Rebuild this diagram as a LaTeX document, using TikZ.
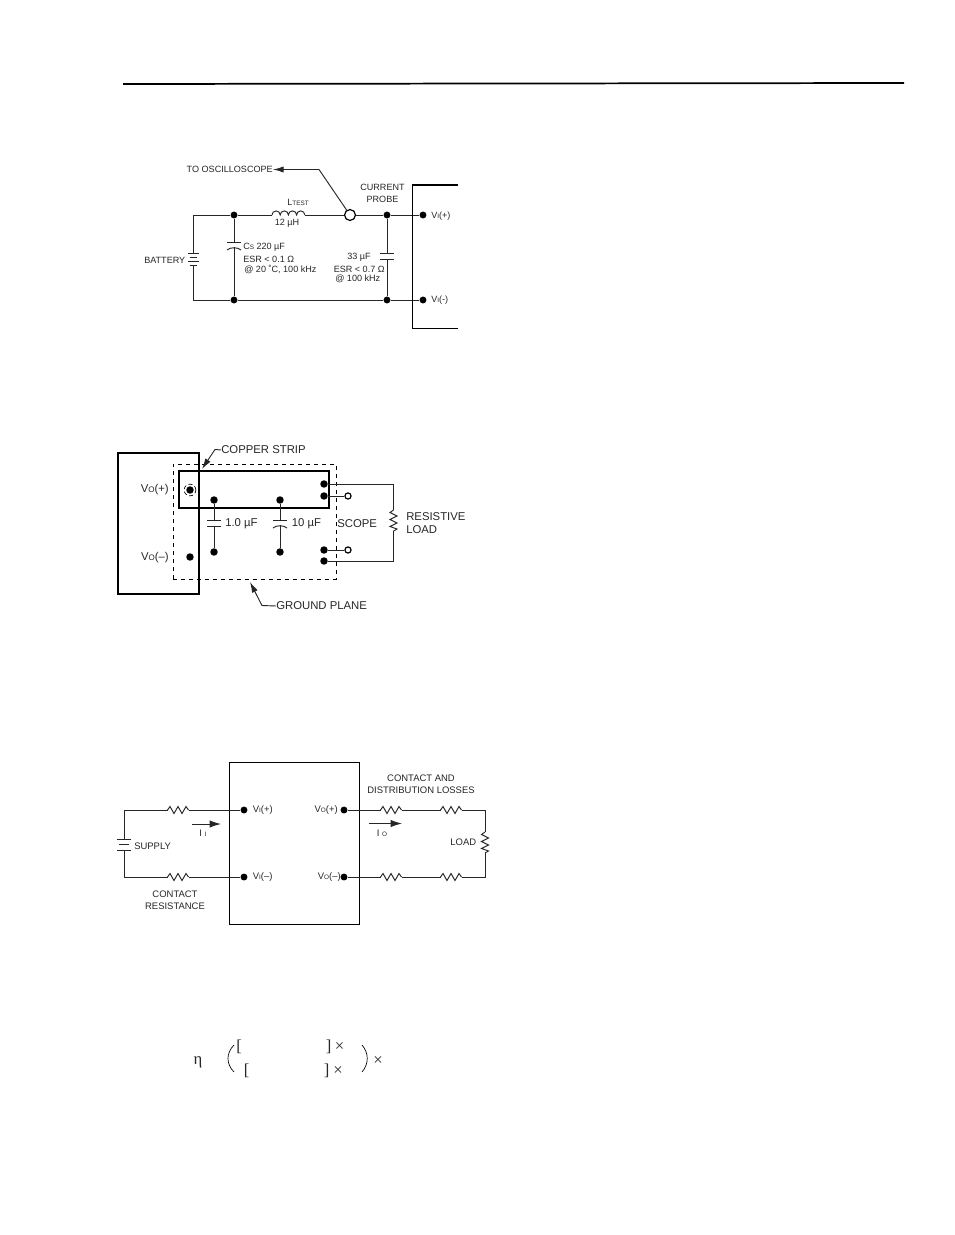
\documentclass[tikz,border=0pt]{standalone}
\usepackage{fontspec}
\setmainfont{Liberation Sans}
\newfontfamily\serifgreek{Liberation Serif}
\usetikzlibrary{arrows.meta,calc}
\newcommand\smc[1]{{\fontsize{4.8}{5}\selectfont #1}}
\newcommand\smd[1]{{\fontsize{6}{6}\selectfont #1}}
\tikzset{
  wire/.style={line width=0.7pt,black!85},
  dot/.style={circle,fill=black,draw=none,inner sep=0pt,minimum size=5.6pt},
  sdot/.style={circle,fill=black,draw=none,inner sep=0pt,minimum size=5.2pt},
  odot/.style={circle,draw=black,fill=white,line width=0.9pt,inner sep=0pt,minimum size=4.6pt},
  lab/.style={inner sep=0pt,text=black!85,font=\fontsize{6.8}{9}\selectfont,align=center},
  labc/.style={inner sep=0pt,text=black!85,font=\fontsize{7.1}{9}\selectfont,align=center},
  labb/.style={inner sep=0pt,text=black!85,font=\fontsize{8.5}{9.6}\selectfont,align=left},
  mathlab/.style={inner sep=0pt,text=black!85,font=\serifgreek\fontsize{12.5}{13}\selectfont},
  leader/.style={wire,-{Latex[length=8pt,width=4.6pt]}},
  curarrow/.style={wire,-{Latex[length=8.5pt,width=5.5pt]}},
  hres/.pic={
    \coordinate (-l) at (-10.5,0); \coordinate (-r) at (10.5,0);
    \draw[wire] (-10.5,0) -- (-8,-3.5) -- (-4,3.5) -- (0,-3.5) -- (4,3.5) -- (8,-3.5) -- (10.5,0);
  },
  vres/.pic={
    \coordinate (-t) at (0,-10.5); \coordinate (-b) at (0,10.5);
    \draw[wire] (0,-10.5) -- (-3.5,-8) -- (3.5,-4.5) -- (-3.5,-1) -- (3.5,2.5) -- (-3.5,6) -- (3.5,8.5) -- (0,10.5);
  },
  capf/.pic={
    \coordinate (-t) at (0,-3); \coordinate (-b) at (0,3);
    \draw[wire] (-7,-3) -- (7,-3) (-7,3) -- (7,3);
  },
  capc/.pic={
    \coordinate (-t) at (0,-3); \coordinate (-b) at (0,2);
    \draw[wire] (-7,-3) -- (7,-3);
    \draw[wire] (-7,5) .. controls (-4,2) and (4,2) .. (7,5);
  },
  battf/.pic={
    \coordinate (-t) at (0,-6); \coordinate (-b) at (0,6);
    \draw[wire] (-5.5,-6) -- (5.5,-6) (-3.5,-2) -- (3.5,-2) (-5.5,2) -- (5.5,2) (-3.5,6) -- (3.5,6);
  },
  batts/.pic={
    \coordinate (-t) at (0,-5.5); \coordinate (-b) at (0,5.5);
    \draw[wire] (-7,-5.5) -- (7,-5.5) (-5,0) -- (5,0) (-7,5.5) -- (7,5.5);
  },
  indu/.pic={
    \coordinate (-l) at (-16.5,0); \coordinate (-r) at (16.5,0);
    \draw[wire] (-16.5,0) arc[start angle=180,end angle=360,radius=4.1]
      arc[start angle=180,end angle=360,radius=4.1]
      arc[start angle=180,end angle=360,radius=4.1]
      arc[start angle=180,end angle=360,radius=4.1];
  }
}
\begin{document}
\begin{tikzpicture}[x=0.75pt,y=-0.75pt]
\useasboundingbox (0,0) rectangle (954,1235);
% header rule
\coordinate (hl) at (123,84);
\coordinate (hr) at (904,83);
\draw[line width=1.3pt] (hl) -- (hr);

%%%% Figure 1
\coordinate (tl) at (193,215);
\coordinate (bl) at (193,300);
\node[sdot] (j1) at (234,215) {};
\node[sdot] (j2) at (234,300) {};
\node[sdot] (j3) at (387,215) {};
\node[sdot] (j4) at (387,300) {};
\node[sdot] (vp) at (423,215) {};
\node[sdot] (vm) at (423,300) {};
\node[circle,draw=black,line width=0.9pt,fill=white,inner sep=0pt,minimum size=8.2pt] (probe) at (350,215) {};
\pic (ind) at (288.5,215) {indu};
\pic (bat) at (193,259) {battf};
\pic (cs) at (234,245) {capc};
\pic (c33) at (387,256) {capf};
\draw[wire] (bat-t) -- (tl) -- (j1) -- (ind-l);
\draw[wire] (ind-r) -- (probe) -- (j3) -- (vp);
\draw[wire] (bat-b) -- (bl) -- (j2) -- (j4) -- (vm);
\draw[wire] (j1) -- (cs-t) (cs-b) -- (j2);
\draw[wire] (j3) -- (c33-t) (c33-b) -- (j4);
\coordinate (b1a) at (458,185); \coordinate (b1b) at (412,185);
\coordinate (b1c) at (412,328); \coordinate (b1d) at (458,328);
\draw[line width=0.75pt] (b1b) -- (b1c) -- (b1d);
\draw[line width=1.2pt] (b1a) -- (b1b);
\node[lab,anchor=east] (osc) at (273,169.5) {TO OSCILLOSCOPE};
\coordinate (bend) at (319,169.5);
\draw[leader] (probe) -- (bend) -- (osc.east);
\node[lab] (cp) at (382.5,193.5) {CURRENT\\PROBE};
\node[lab] (lt) at (298,202) {L\smc{TEST}};
\node[lab] (l12) at (287,223) {12 µH};
\node[lab,anchor=east] (batl) at (185.5,260) {BATTERY};
\node[lab,anchor=west] (csl) at (243,247) {C\smc{S} 220 µF};
\node[lab,anchor=west] (esr1) at (243,259.5) {ESR < 0.1 Ω};
\node[lab,anchor=west] (esr2) at (244,269.5) {@ 20 ˚C, 100 kHz};
\node[lab,anchor=west] (c33l) at (347,257) {33 µF};
\node[lab,anchor=west] (esr3) at (333.5,269) {ESR < 0.7 Ω};
\node[lab,anchor=west] (esr4) at (335,279) {@ 100 kHz};
\node[lab,anchor=west] (vpl) at (431,216.5) {V\smc{I}(+)};
\node[lab,anchor=west] (vml) at (431,300.5) {V\smc{I}(-)};

%%%% Figure 2
\node[draw=black,line width=1.05pt,inner sep=0pt,minimum width=81pt*0.75,minimum height=141pt*0.75] (mod) at (158.5,523.5) {};
\node[draw=black,dashed,line width=0.65pt,inner sep=0pt,minimum width=163pt*0.75,minimum height=115pt*0.75] (gp) at (254.5,521.5) {};
\node[draw=black,line width=1.05pt,inner sep=0pt,minimum width=150pt*0.75,minimum height=37pt*0.75] (strip) at (254,489.5) {};
\node[dot] (vop) at (190,490) {};
\node[circle,draw=black,densely dashed,line width=0.5pt,inner sep=0pt,minimum size=8.8pt] (vopr) at (190,490) {};
\node[dot] (vom) at (190,557) {};
\node[dot] (c1t) at (214,500) {};
\node[dot] (c1b) at (214,552) {};
\node[dot] (c2t) at (280,500) {};
\node[dot] (c2b) at (280,552) {};
\pic (c1) at (214,523) {capf};
\pic (c2) at (280,523) {capc};
\draw[wire] (c1t) -- (c1-t) (c1-b) -- (c1b);
\draw[wire] (c2t) -- (c2-t) (c2-b) -- (c2b);
\node[dot] (r1) at (324,484) {};
\node[dot] (r2) at (324,496) {};
\node[dot] (r3) at (324,550) {};
\node[dot] (r4) at (324,561) {};
\node[odot] (o1) at (348,496) {};
\node[odot] (o2) at (348,550) {};
\draw[wire] (r2) -- (o1) (r3) -- (o2);
\pic (rl) at (393.5,520.5) {vres};
\coordinate (rlt) at (393.5,484);
\coordinate (rlb) at (393.5,561);
\draw[wire] (r1) -- (rlt) -- (rl-t) (rl-b) -- (rlb) -- (r4);
\node[labb,anchor=east] (vopl) at (169,490) {V\smd{O}(+)};
\node[labb,anchor=east] (voml) at (169,557.5) {V\smd{O}(–)};
\node[labb,anchor=west] (c1l) at (225,523.5) {1.0 µF};
\node[labb,anchor=west] (c2l) at (291.5,523.5) {10 µF};
\node[labb,anchor=west] (sc) at (337,524) {SCOPE};
\node[labb,anchor=west] (rll) at (406,523) {RESISTIVE\\LOAD};
\node[labb,anchor=west] (cs2) at (221,450) {COPPER STRIP};
\node[labb,anchor=west] (gpl) at (276,606) {GROUND PLANE};
\coordinate (csb) at (215,449.5);
\coordinate (cstip) at (202,469);
\draw[leader] (cs2.west) -- (csb) -- (cstip);
\coordinate (gpb) at (262,605.5);
\coordinate (gptip) at (250,582);
\draw[leader] (gpl.west) -- (gpb) -- (gptip);

%%%% Figure 3
\node[draw=black,line width=0.7pt,inner sep=0pt,minimum width=130pt*0.75,minimum height=162pt*0.75] (box3) at (294,843) {};
\node[sdot] (vip) at (244,810) {};
\node[sdot] (vim) at (244,877) {};
\node[sdot] (vop3) at (344,810) {};
\node[sdot] (vom3) at (344,877) {};
\pic (ra) at (178,810) {hres};
\pic (rb) at (178,877) {hres};
\pic (rc) at (391,810) {hres};
\pic (rd) at (451,810) {hres};
\pic (re) at (391,877) {hres};
\pic (rf) at (451,877) {hres};
\pic (rg) at (485,842.5) {vres};
\pic (sup) at (124,844.5) {batts};
\coordinate (c1) at (124,810);
\coordinate (c2) at (124,877);
\coordinate (c3) at (485,810);
\coordinate (c4) at (485,877);
\draw[wire] (sup-t) -- (c1) -- (ra-l) (ra-r) -- (vip);
\draw[wire] (sup-b) -- (c2) -- (rb-l) (rb-r) -- (vim);
\draw[wire] (vop3) -- (rc-l) (rc-r) -- (rd-l) (rd-r) -- (c3) -- (rg-t);
\draw[wire] (vom3) -- (re-l) (re-r) -- (rf-l) (rf-r) -- (c4) -- (rg-b);
\coordinate (a1s) at (192,824); \coordinate (a1e) at (221,824);
\coordinate (a2s) at (369,823.5); \coordinate (a2e) at (402,823.5);
\draw[curarrow] (a1s) -- (a1e);
\draw[curarrow] (a2s) -- (a2e);
\node[labc] (ii) at (203,833) {I \smc{I}};
\node[labc] (io) at (382,833) {I \smc{O}};
\node[labc,anchor=west] (l1) at (252.5,810) {V\smc{I}(+)};
\node[labc,anchor=west] (l2) at (252.5,877) {V\smc{I}(–)};
\node[labc,anchor=east] (l3) at (338,810) {V\smc{O}(+)};
\node[labc,anchor=east] (l4) at (341,877) {V\smc{O}(–)};
\node[labc,anchor=west] (l5) at (134,846) {SUPPLY};
\node[labc,anchor=east] (l6) at (476.5,842) {LOAD};
\node[labc] (l7) at (421,784.5) {CONTACT AND\\DISTRIBUTION LOSSES};
\node[labc] (l8) at (175,900.5) {CONTACT\\RESISTANCE};

%%%% Formula
\node[mathlab] (eta) at (198,1062) {η};
\node[mathlab,anchor=west] (b1) at (236,1046.5) {[};
\node[mathlab,anchor=west] (b2) at (325.5,1046.5) {]};
\node[mathlab,anchor=west] (x1) at (334.5,1047) {×};
\node[mathlab,anchor=west] (b3) at (243.5,1071) {[};
\node[mathlab,anchor=west] (b4) at (323.5,1071) {]};
\node[mathlab,anchor=west] (x2) at (333,1071) {×};
\node[mathlab,anchor=west] (x3) at (373,1061) {×};
\coordinate (pl1) at (234,1045); \coordinate (pl2) at (234,1072);
\coordinate (pr1) at (362,1045); \coordinate (pr2) at (362,1072);
\draw[line width=0.5pt] (pl1) .. controls (226,1053) and (226,1064) .. (pl2);
\draw[line width=0.5pt] (pr1) .. controls (369,1053) and (369,1064) .. (pr2);
\end{tikzpicture}
\end{document}
